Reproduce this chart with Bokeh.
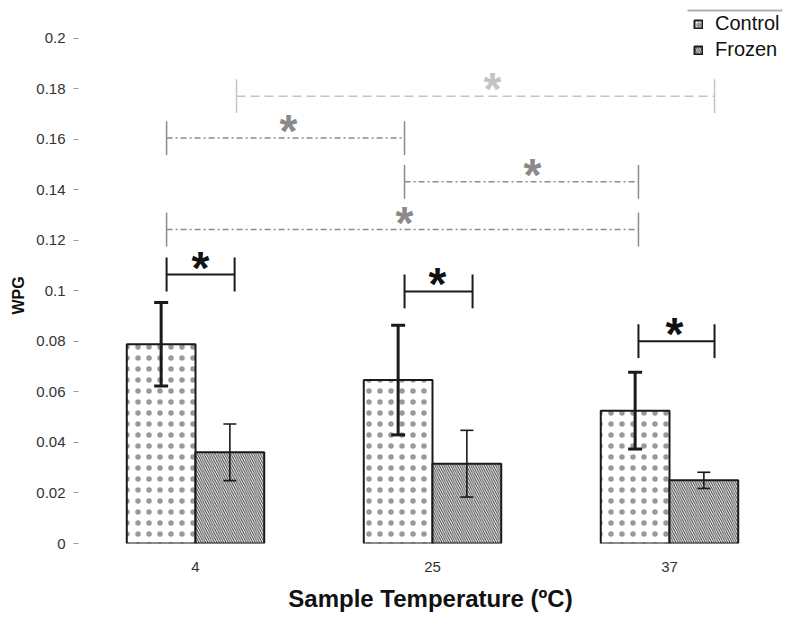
from bokeh.plotting import figure
from bokeh.models import (ColumnDataSource, Whisker, TeeHead, FixedTicker, Legend,
                          LegendItem, BoxAnnotation, Range1d, Title)
from bokeh.core.properties import value
from bokeh.embed import file_html
from bokeh.resources import INLINE

# ---------------- data ----------------
categories = ["4", "25", "37"]
cat_pos = [1, 2, 3]
control_mean = [0.0789, 0.0647, 0.0526]
control_err = [0.0165, 0.0217, 0.0152]
frozen_mean = [0.0361, 0.0316, 0.0250]
frozen_err = [0.0112, 0.0132, 0.0032]

y_ticks = [0, 0.02, 0.04, 0.06, 0.08, 0.1, 0.12, 0.14, 0.16, 0.18, 0.2]
y_tick_labels = ["0", "0.02", "0.04", "0.06", "0.08", "0.1", "0.12", "0.14", "0.16", "0.18", "0.2"]

# significance brackets (x in category units, y in WPG)
light_x0 = [1.173]
light_x1 = [3.190]
light_y = [0.1771]
light_star_x = [2.253]

gray_x0 = [0.878, 1.882, 0.878]
gray_x1 = [1.882, 2.869, 2.869]
gray_y = [0.1605, 0.1432, 0.1243]
gray_star_x = [1.392, 2.422, 1.882]

black_x0 = [0.878, 1.882, 2.869]
black_x1 = [1.165, 2.169, 3.190]
black_y = [0.1065, 0.0998, 0.0801]
black_star_x = [1.021, 2.021, 3.021]

# ---------------- figure ----------------
FONT = "Liberation Sans"
BAR_W = 0.29
OFF = BAR_W / 2

p = figure(width=784, height=614, output_backend="svg", toolbar_location=None,
           x_range=Range1d(0.5063, 3.4768), y_range=Range1d(0, 0.2130),
           min_border_left=78, min_border_right=2, min_border_top=5, min_border_bottom=69)
p.outline_line_color = None
p.xgrid.visible = False
p.ygrid.visible = False
p.background_fill_color = "white"
p.border_fill_color = "white"

ctrl_x = [c - OFF for c in cat_pos]
froz_x = [c + OFF for c in cat_pos]

src_c = ColumnDataSource(dict(x=ctrl_x, top=control_mean,
                              upper=[m + e for m, e in zip(control_mean, control_err)],
                              lower=[m - e for m, e in zip(control_mean, control_err)]))
src_f = ColumnDataSource(dict(x=froz_x, top=frozen_mean,
                              upper=[m + e for m, e in zip(frozen_mean, frozen_err)],
                              lower=[m - e for m, e in zip(frozen_mean, frozen_err)]))

r_c = p.vbar(x="x", top="top", width=BAR_W, source=src_c, fill_color="white",
             line_color="#1a1a1a", line_width=2,
             hatch_pattern="dot", hatch_scale=11, hatch_weight=0.5,
             hatch_color="#333333", hatch_alpha=0.5)
r_f = p.vbar(x="x", top="top", width=BAR_W, source=src_f, fill_color="white",
             line_color="#1a1a1a", line_width=2,
             hatch_pattern="left_diagonal_line", hatch_scale=4.5, hatch_weight=1, hatch_color="#3a3a3a")

wc = Whisker(base="x", upper="upper", lower="lower", source=src_c, level="overlay",
             line_width=3, line_color="#1a1a1a",
             upper_head=TeeHead(size=14, line_width=3, line_color="#1a1a1a"),
             lower_head=TeeHead(size=14, line_width=3, line_color="#1a1a1a"))
wf = Whisker(base="x", upper="upper", lower="lower", source=src_f, level="overlay",
             line_width=1.6, line_color="#1a1a1a",
             upper_head=TeeHead(size=13, line_width=1.6, line_color="#1a1a1a"),
             lower_head=TeeHead(size=13, line_width=1.6, line_color="#1a1a1a"))
p.add_layout(wc)
p.add_layout(wf)

# ---------------- brackets ----------------
TICK_H = 0.0067
STAR_FS = 46
STAR_YOFF = -7


def bracket(x0, x1, y, star_x, color, dash, width, star_color):
    p.segment(x0=x0, x1=x1, y0=y, y1=y, line_color=color, line_width=width, line_dash=dash)
    p.segment(x0=x0, x1=x0, y0=[v - TICK_H for v in y], y1=[v + TICK_H for v in y],
              line_color=color, line_width=width)
    p.segment(x0=x1, x1=x1, y0=[v - TICK_H for v in y], y1=[v + TICK_H for v in y],
              line_color=color, line_width=width)
    p.text(x=star_x, y=y, text=["*"] * len(y), text_font=value(FONT), text_font_style="bold",
           text_font_size=f"{STAR_FS}px", text_align="center", text_baseline="alphabetic",
           y_offset=STAR_YOFF, text_color=star_color)


bracket(light_x0, light_x1, light_y, light_star_x, "#c4c4c4", "9 5", 1.5, "#c4c4c4")
bracket(gray_x0, gray_x1, gray_y, gray_star_x, "#8c8c8c", "6 3 2 3", 1.5, "#8a8a8a")
bracket(black_x0, black_x1, black_y, black_star_x, "#1a1a1a", "solid", 2, "#111111")

# ---------------- axes ----------------
p.xaxis.ticker = FixedTicker(ticks=cat_pos)
p.xaxis.major_label_overrides = {c: lab for c, lab in zip(cat_pos, categories)}
p.xaxis.axis_line_color = None
p.xaxis.major_tick_line_color = None
p.xaxis.minor_tick_line_color = None
p.xaxis.major_label_standoff = 12
p.xaxis.major_label_text_font = FONT
p.xaxis.major_label_text_font_size = "15px"
p.xaxis.major_label_text_color = "#333333"
p.xaxis.axis_label = "Sample Temperature (ºC)"
p.xaxis.axis_label_text_font = FONT
p.xaxis.axis_label_text_font_style = "bold"
p.xaxis.axis_label_text_font_size = "24px"
p.xaxis.axis_label_text_color = "#111111"
p.xaxis.axis_label_standoff = 10

p.yaxis.ticker = FixedTicker(ticks=y_ticks)
p.yaxis.major_label_overrides = {t: lab for t, lab in zip(y_ticks, y_tick_labels)}
p.yaxis.axis_line_color = None
p.yaxis.major_tick_line_color = "#9a9a9a"
p.yaxis.major_tick_out = 5
p.yaxis.major_tick_in = 0
p.yaxis.minor_tick_line_color = None
p.yaxis.major_label_standoff = 8
p.yaxis.major_label_text_font = FONT
p.yaxis.major_label_text_font_size = "15px"
p.yaxis.major_label_text_color = "#333333"

# y-axis title, placed in the left panel so that it can sit where the reference has it
p.add_layout(Title(text="WPG", align="left", offset=229, standoff=14,
                   text_font=FONT, text_font_style="bold", text_font_size="16px",
                   text_color="#111111"), "left")

# ---------------- legend ----------------
legend = Legend(items=[LegendItem(label="Control", renderers=[r_c]),
                       LegendItem(label="Frozen", renderers=[r_f])],
                location=(615, 482), orientation="vertical",
                padding=0, margin=0, spacing=3,
                glyph_width=10, glyph_height=10, label_height=23, label_standoff=12,
                label_text_font=FONT, label_text_font_size="20px", label_text_color="#111111",
                border_line_color=None, background_fill_alpha=0)
p.add_layout(legend)
p.add_layout(BoxAnnotation(left=687, right=782, top=9, bottom=11,
                           left_units="canvas", right_units="canvas",
                           top_units="canvas", bottom_units="canvas",
                           fill_color="#b0b0b0", fill_alpha=1, line_color=None))

open("out.html", "w").write(file_html(p, INLINE))
